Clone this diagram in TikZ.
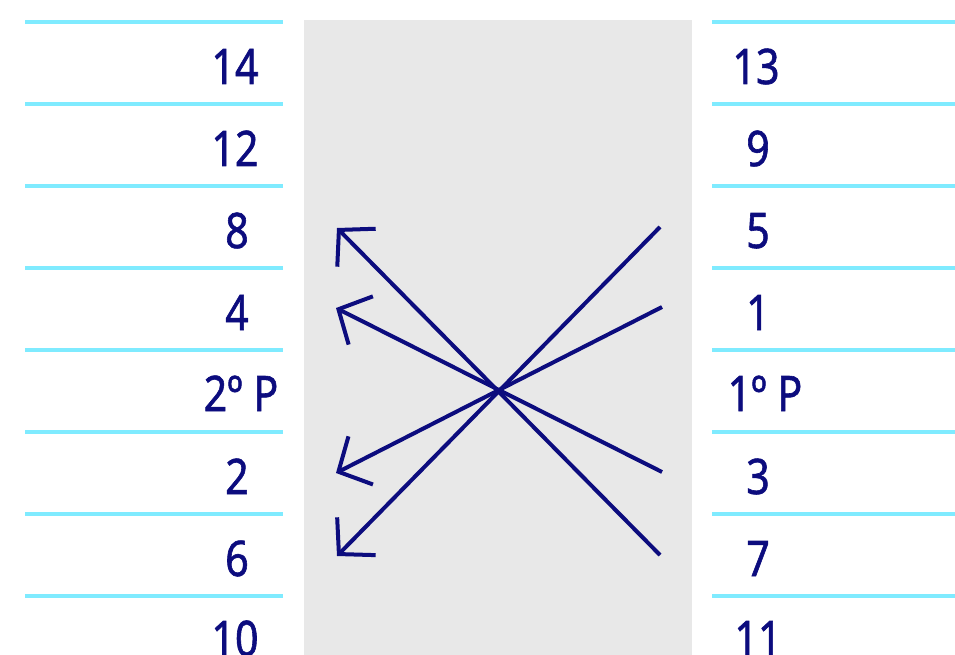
\documentclass[tikz,border=0pt]{standalone}
\usepackage{fontspec}
\setmainfont{Noto Sans}[FakeStretch=0.84,FakeBold=1.2]
\usepackage{tikz}
\usetikzlibrary{arrows.meta,calc}
\definecolor{flnavy}{HTML}{0C0C7E}
\definecolor{flcyan}{HTML}{7FEBFF}
\definecolor{flgray}{HTML}{E8E8E8}
\tikzset{
  flrule/.style={draw=flcyan,line width=4pt},
  fllabel/.style={text=flnavy,font=\fontsize{49}{52}\selectfont,anchor=base,inner sep=0pt},
  flmove/.style={draw=flnavy,line width=4pt,-{Straight Barb[length=25pt,width=54pt,line width=4pt]}}
}

\begin{document}
\begin{tikzpicture}[x=1pt,y=-1pt]
\useasboundingbox (0,0) rectangle (955,655);
\fill[flgray] (304,20) rectangle (692,655);
\foreach \k in {0,...,7}{
  \draw[flrule] (25,22+82*\k) -- (283,22+82*\k);
  \draw[flrule] (712,22+82*\k) -- (955,22+82*\k);
}
% left column
\node[fllabel] (l14) at (235,84) {14};
\node[fllabel] (l12) at (235,166) {12};
\node[fllabel] (l8) at (237,248) {8};
\node[fllabel] (l4) at (237,330) {4};
\node[fllabel] (l2p) at (241,411) {2º P};
\node[fllabel] (l2) at (237,494) {2};
\node[fllabel] (l6) at (237,576) {6};
\node[fllabel] (l10) at (235,656) {10};
% right column
\node[fllabel] (r13) at (756,84) {13};
\node[fllabel] (r9) at (758,166) {9};
\node[fllabel] (r5) at (758,248) {5};
\node[fllabel] (r1) at (758,330) {1};
\node[fllabel] (r1p) at (765,411) {1º P};
\node[fllabel] (r3) at (758,494) {3};
\node[fllabel] (r7) at (758,576) {7};
\node[fllabel] (r11) at (758,656) {11};
% moves
\coordinate (s7) at (660,555);
\coordinate (s3) at (662,472);
\coordinate (s5) at (660,227);
\coordinate (s1) at (662,307);
\coordinate (t8) at (337,228);
\coordinate (t4) at (336,308);
\coordinate (t6) at (337,556);
\coordinate (t2) at (336,473);
\draw[flmove] (s7) -- (t8);
\draw[flmove] (s3) -- (t4);
\draw[flmove] (s5) -- (t6);
\draw[flmove] (s1) -- (t2);
\end{tikzpicture}
\end{document}
